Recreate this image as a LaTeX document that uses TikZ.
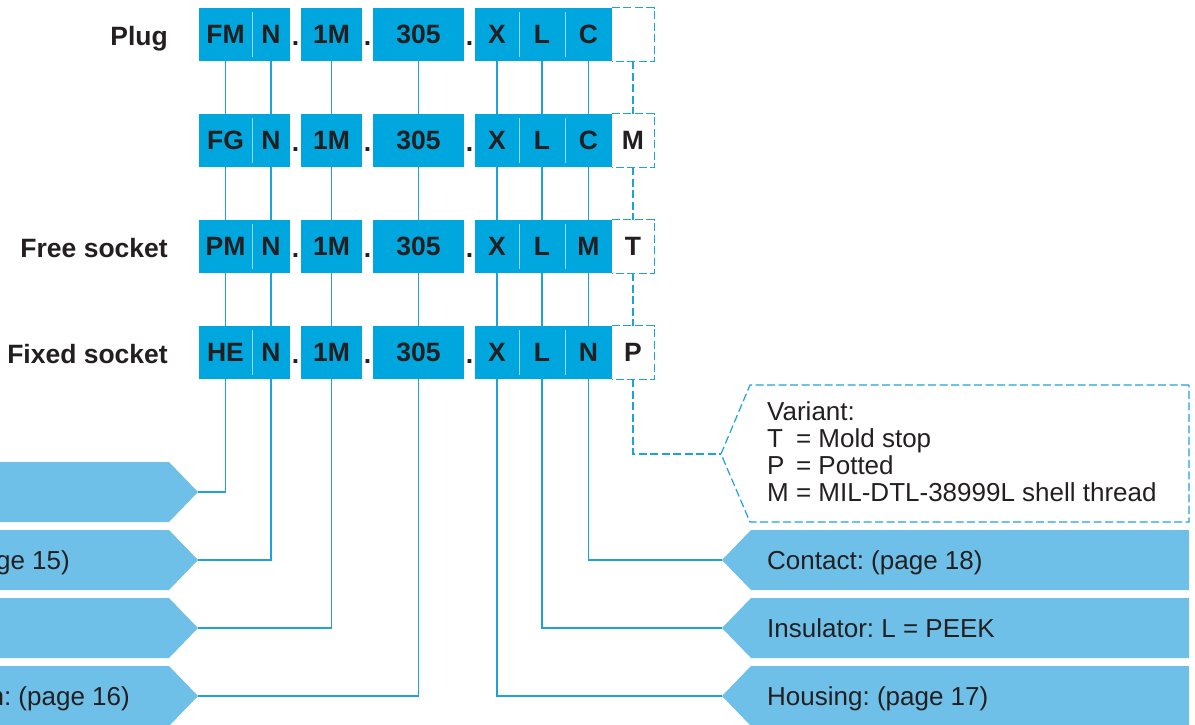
\documentclass[tikz,border=0pt]{standalone}
\usepackage{fontspec}
\setmainfont{Liberation Sans}
\usepackage{tikz}
\usetikzlibrary{positioning}
\frenchspacing
\definecolor{cellblue}{RGB}{0,166,222}
\definecolor{tagblue}{RGB}{111,192,232}
\definecolor{wireblue}{RGB}{30,162,220}
\definecolor{divblue}{RGB}{150,215,242}
\definecolor{ink}{RGB}{35,31,32}
\tikzstyle{cell}=[fill=cellblue,inner sep=0pt,minimum height=53pt,text=ink,font=\fontsize{26.5}{30}\selectfont\bfseries]
\tikzstyle{varcell}=[inner sep=0pt,minimum height=53pt,minimum width=42pt,text=ink,font=\fontsize{26.5}{30}\selectfont\bfseries]
\tikzstyle{dot}=[inner sep=0pt,anchor=base,text=ink,font=\fontsize{26.5}{30}\selectfont\bfseries]
\tikzstyle{rowlabel}=[inner sep=0pt,anchor=base east,text=ink,font=\fontsize{26.5}{30}\selectfont\bfseries]
\tikzstyle{tagtext}=[inner sep=0pt,text=ink,font=\fontsize{26}{27}\selectfont]
\tikzstyle{wire}=[draw=wireblue,line width=1.2pt]
\tikzstyle{dwire}=[wire,dash pattern=on 8pt off 3.5pt]
\tikzstyle{divider}=[draw=divblue,line width=1.2pt]
\begin{document}
\begin{tikzpicture}
  [x=1pt,y=-1pt]
\useasboundingbox (0,0) rectangle (1195,724);
\clip (0,0) rectangle (1195,724);
% the four order codes
\foreach \r/\y/\a/\c/\v/\lab in {1/34.5/FM/C//Plug,2/140.5/FG/C/M/,3/246.5/PM/M/T/Free socket,4/352.5/HE/N/P/Fixed socket}{
  \node[rowlabel] (lab\r) at (168,{\y+10.5}) {\lab};
  \node[cell,minimum width=53pt] (fm\r) at (225.5,\y) {\a};
  \node[cell,minimum width=38pt] (n\r) at (271,\y) {N};
  \node[dot] (da\r) at (295.5,{\y+10.5}) {.};
  \node[cell,minimum width=61pt] (m\r) at (331.5,\y) {1M};
  \node[dot] (db\r) at (367.5,{\y+10.5}) {.};
  \node[cell,minimum width=91pt] (s\r) at (418.5,\y) {305};
  \node[dot] (dc\r) at (469.5,{\y+10.5}) {.};
  \node[cell,minimum width=44pt] (x\r) at (497,\y) {X};
  \node[cell,minimum width=46pt] (l\r) at (542,\y) {L};
  \node[cell,minimum width=47pt] (c\r) at (588.5,\y) {\c};
  \node[varcell] (v\r) at (633,\y) {\v};
  \draw[dwire] (v\r.north west) -- (v\r.north east) -- (v\r.south east) -- (v\r.south west);
  \foreach \k in {fm,x,l}
    \draw[divider] ([yshift=-4pt]\k\r.north east) -- ([yshift=4pt]\k\r.south east);
}
% links between the rows
\foreach \r/\n in {1/2,2/3,3/4}{
  \foreach \k in {fm,n,m,s,x,l,c}
    \draw[wire] (\k\r.south) -- (\k\n.north);
  \draw[dwire] (v\r.south) -- (v\n.north);
}
% tips of the tags
\coordinate (tfm) at (198,492);
\coordinate (tn) at (198,560);
\coordinate (tm) at (198,628);
\coordinate (ts) at (198,696);
\coordinate (tc) at (722,560);
\coordinate (tl) at (722,628);
\coordinate (tx) at (722,696);
\coordinate (tv) at (721,454);
\foreach \t/\y in {tfm/462,tn/530,tm/598,ts/666}
  \fill[tagblue] (-5,\y) -- (169,\y) -- (\t) -- (169,{\y+60}) -- (-5,{\y+60}) -- cycle;
\foreach \t/\y in {tc/530,tl/598,tx/666}
  \fill[tagblue] (1189,\y) -- (751,\y) -- (\t) -- (751,{\y+60}) -- (1189,{\y+60}) -- cycle;
\draw[dwire] (1189,385) -- (750,385) -- (tv) -- (750,522) -- (1189,522) -- cycle;
\foreach \k in {fm,n,m,s,x,l,c}
  \draw[wire] (\k4.south) |- (t\k);
\draw[dwire] (v4.south) |- (tv);
% texts of the tags
\node[tagtext,anchor=base east] (pn) at (70,569.5) {ge 15)};
\node[tagtext,anchor=base east] (ps) at (130,705.5) {n: (page 16)};
\node[tagtext,anchor=base west] (pc) at (767,569.5) {Contact: (page 18)};
\node[tagtext,anchor=base west] (pl) at (767,637.5) {Insulator: L = PEEK};
\node[tagtext,anchor=base west] (px) at (767,705.5) {Housing: (page 17)};
\node[tagtext,anchor=north west,align=left] (pv) at (767,401.5)
  {Variant:\\ \rlap{T}\hphantom{M} = Mold stop\\ \rlap{P}\hphantom{M} = Potted\\ M = MIL-DTL-38999L shell thread};
\end{tikzpicture}
\end{document}
